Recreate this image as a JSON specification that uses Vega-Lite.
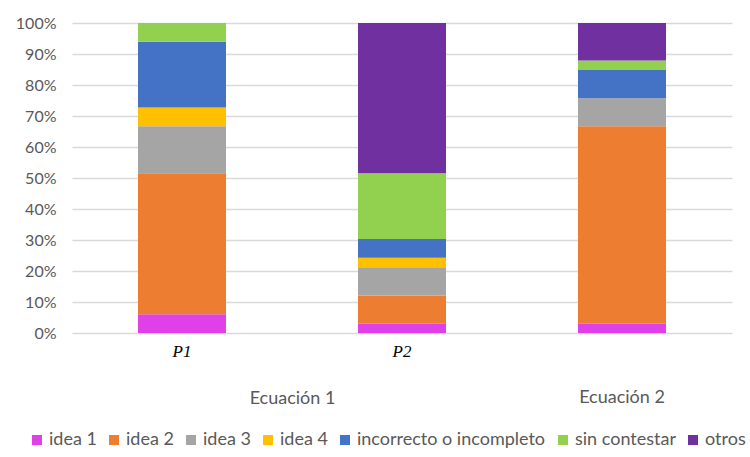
{
  "$schema": "https://vega.github.io/schema/vega-lite/v6.json",
  "width": 660,
  "height": 310,
  "autosize": {"type": "none"},
  "padding": {"left": 72, "top": 23, "right": 18, "bottom": 124},
  "background": "white",
  "data": {
    "values": [
      {"pregunta": "P1", "categoria": "idea 1", "orden": 1, "porcentaje": 6.06},
      {"pregunta": "P1", "categoria": "idea 2", "orden": 2, "porcentaje": 45.45},
      {"pregunta": "P1", "categoria": "idea 3", "orden": 3, "porcentaje": 15.15},
      {"pregunta": "P1", "categoria": "idea 4", "orden": 4, "porcentaje": 6.06},
      {"pregunta": "P1", "categoria": "incorrecto o incompleto", "orden": 5, "porcentaje": 21.21},
      {"pregunta": "P1", "categoria": "sin contestar", "orden": 6, "porcentaje": 6.06},
      {"pregunta": "P1", "categoria": "otros", "orden": 7, "porcentaje": 0},
      {"pregunta": "P2", "categoria": "idea 1", "orden": 1, "porcentaje": 3.03},
      {"pregunta": "P2", "categoria": "idea 2", "orden": 2, "porcentaje": 9.09},
      {"pregunta": "P2", "categoria": "idea 3", "orden": 3, "porcentaje": 9.09},
      {"pregunta": "P2", "categoria": "idea 4", "orden": 4, "porcentaje": 3.03},
      {"pregunta": "P2", "categoria": "incorrecto o incompleto", "orden": 5, "porcentaje": 6.06},
      {"pregunta": "P2", "categoria": "sin contestar", "orden": 6, "porcentaje": 21.21},
      {"pregunta": "P2", "categoria": "otros", "orden": 7, "porcentaje": 48.48},
      {"pregunta": "Ecuación 2", "categoria": "idea 1", "orden": 1, "porcentaje": 3.03},
      {"pregunta": "Ecuación 2", "categoria": "idea 2", "orden": 2, "porcentaje": 63.64},
      {"pregunta": "Ecuación 2", "categoria": "idea 3", "orden": 3, "porcentaje": 9.09},
      {"pregunta": "Ecuación 2", "categoria": "idea 4", "orden": 4, "porcentaje": 0},
      {"pregunta": "Ecuación 2", "categoria": "incorrecto o incompleto", "orden": 5, "porcentaje": 9.09},
      {"pregunta": "Ecuación 2", "categoria": "sin contestar", "orden": 6, "porcentaje": 3.03},
      {"pregunta": "Ecuación 2", "categoria": "otros", "orden": 7, "porcentaje": 12.12}
    ]
  },
  "mark": {"type": "bar"},
  "encoding": {
    "x": {
      "field": "pregunta",
      "type": "nominal",
      "sort": ["P1", "P2", "Ecuación 2"],
      "scale": {"paddingInner": 0.6, "paddingOuter": 0.3},
      "axis": {
        "title": "Ecuación 1",
        "titleX": 220,
        "titleY": 65,
        "titleBaseline": "middle",
        "titleAnchor": null,
        "titleAlign": "center",
        "titleFont": "Lato",
        "titleFontSize": 18,
        "titleFontWeight": "normal",
        "titleColor": "#595959",
        "labelAngle": 0,
        "domain": false,
        "ticks": false,
        "labelColor": {"condition": {"test": "datum.value == 'Ecuación 2'", "value": "#595959"}, "value": "#000000"},
        "labelFont": {"condition": {"test": "datum.value == 'Ecuación 2'", "value": "Lato"}, "value": "Liberation Serif"},
        "labelFontStyle": {"condition": {"test": "datum.value == 'Ecuación 2'", "value": "normal"}, "value": "italic"},
        "labelFontSize": {"condition": {"test": "datum.value == 'Ecuación 2'", "value": 18}, "value": 17},
        "labelPadding": {"condition": {"test": "datum.value == 'Ecuación 2'", "value": 55}, "value": 10}
      }
    },
    "y": {
      "field": "porcentaje",
      "type": "quantitative",
      "stack": true,
      "scale": {"domain": [0, 100]},
      "axis": {
        "title": null,
        "values": [0, 10, 20, 30, 40, 50, 60, 70, 80, 90, 100],
        "labelExpr": "datum.value + '%'",
        "domain": false,
        "ticks": false,
        "gridColor": "#D9D9D9",
        "gridWidth": 1.5,
        "labelColor": "#595959",
        "labelFont": "Lato",
        "labelFontSize": 16,
        "labelPadding": 16
      }
    },
    "order": {"field": "orden", "type": "quantitative"},
    "color": {
      "field": "categoria",
      "type": "nominal",
      "sort": ["idea 1", "idea 2", "idea 3", "idea 4", "incorrecto o incompleto", "sin contestar", "otros"],
      "scale": {
        "domain": ["idea 1", "idea 2", "idea 3", "idea 4", "incorrecto o incompleto", "sin contestar", "otros"],
        "range": ["#E040E8", "#ED7D31", "#A5A5A5", "#FFC000", "#4472C4", "#92D050", "#7030A0"]
      },
      "legend": {
        "title": null,
        "orient": "none",
        "direction": "horizontal",
        "legendX": -44,
        "legendY": 408,
        "symbolType": "square",
        "symbolSize": 100,
        "symbolStrokeWidth": 0,
        "labelFont": "Lato",
        "labelFontSize": 18,
        "labelLimit": 400,
        "labelColor": "#595959",
        "columnPadding": 8,
        "labelOffset": 3
      }
    }
  },
  "config": {"view": {"stroke": null}}
}
